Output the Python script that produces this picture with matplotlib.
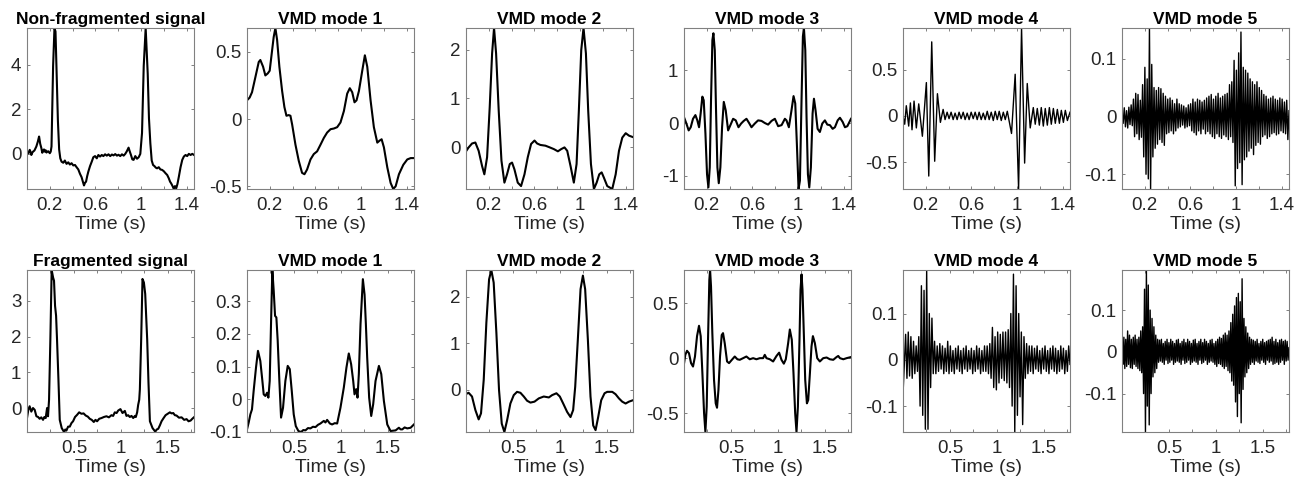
import numpy as np
import matplotlib
matplotlib.use("Agg")
import matplotlib.pyplot as plt
from matplotlib.ticker import FixedLocator, FuncFormatter

plt.rcParams["font.family"] = ["Liberation Sans", "DejaVu Sans"]
plt.rcParams["axes.unicode_minus"] = False

# recording lengths (s)
T_TOP = 1.465
T_BOT = 1.78

# ---------------- non-fragmented signal and its modes (t, value) ----------------
ecg_top = [(0.000, 0.10), (0.012, 0.02), (0.024, 0.18), (0.032, 0.08), (0.038, -0.05),
           (0.046, 0.05), (0.053, 0.10), (0.065, 0.15), (0.082, 0.33), (0.095, 0.55),
           (0.106, 0.78), (0.116, 0.45), (0.126, 0.26), (0.134, 0.05), (0.141, 0.12),
           (0.149, 0.20), (0.156, 0.10), (0.164, 0.16), (0.171, 0.06), (0.185, 0.12),
           (0.200, 0.03), (0.208, 0.10), (0.215, 0.33), (0.229, 3.95), (0.241, 5.66),
           (0.250, 5.50), (0.259, 3.80), (0.271, 1.50), (0.282, 0.20), (0.292, -0.20),
           (0.303, -0.35), (0.318, -0.40), (0.332, -0.30), (0.347, -0.45), (0.362, -0.38),
           (0.376, -0.48), (0.391, -0.42), (0.406, -0.52), (0.421, -0.50), (0.435, -0.60),
           (0.450, -0.70), (0.465, -0.90), (0.479, -1.05), (0.490, -1.25), (0.500, -1.42),
           (0.509, -1.30), (0.518, -1.25), (0.528, -1.00), (0.538, -0.80), (0.553, -0.55),
           (0.568, -0.35), (0.582, -0.15), (0.597, -0.10), (0.612, -0.20), (0.626, -0.05),
           (0.641, -0.12), (0.656, -0.05), (0.670, -0.10), (0.685, -0.02), (0.700, -0.08),
           (0.715, -0.02), (0.730, -0.10), (0.745, -0.03), (0.759, -0.07), (0.774, -0.01),
           (0.789, -0.08), (0.803, -0.04), (0.818, -0.10), (0.833, -0.02), (0.848, -0.08),
           (0.862, 0.00), (0.876, 0.12), (0.891, 0.28), (0.902, 0.10), (0.912, -0.05),
           (0.924, -0.25), (0.935, -0.27), (0.950, -0.10), (0.965, -0.22), (0.980, -0.15),
           (0.994, 0.00), (1.009, 0.94), (1.024, 3.95), (1.041, 5.66), (1.059, 3.60),
           (1.070, 1.60), (1.082, 0.48), (1.094, -0.30), (1.106, -0.50), (1.118, -0.55),
           (1.130, -0.62), (1.141, -0.65), (1.156, -0.60), (1.170, -0.70), (1.185, -0.72),
           (1.200, -0.78), (1.215, -0.87), (1.230, -0.95), (1.244, -1.10), (1.255, -1.25),
           (1.265, -1.33), (1.277, -1.45), (1.288, -1.58), (1.298, -1.45), (1.309, -1.55),
           (1.320, -1.35), (1.332, -1.03), (1.347, -0.60), (1.362, -0.27), (1.376, -0.12),
           (1.391, -0.05), (1.405, -0.10), (1.420, 0.00), (1.435, -0.05), (1.450, 0.00),
           (1.465, -0.05)]

mode1_top = [(0.000, 0.14), (0.023, 0.16), (0.044, 0.20), (0.073, 0.31), (0.103, 0.425),
             (0.117, 0.44), (0.141, 0.39), (0.161, 0.325), (0.182, 0.34), (0.199, 0.36),
             (0.220, 0.51), (0.234, 0.61), (0.249, 0.678), (0.264, 0.59), (0.284, 0.39),
             (0.308, 0.21), (0.328, 0.09), (0.346, 0.025), (0.366, 0.03), (0.381, 0.025),
             (0.396, -0.04), (0.425, -0.19), (0.454, -0.31), (0.483, -0.40), (0.504, -0.41),
             (0.527, -0.375), (0.557, -0.30), (0.586, -0.26), (0.615, -0.24), (0.645, -0.19),
             (0.674, -0.14), (0.703, -0.10), (0.733, -0.075), (0.762, -0.07), (0.791, -0.06),
             (0.820, -0.025), (0.850, 0.06), (0.879, 0.19), (0.902, 0.23), (0.923, 0.20),
             (0.943, 0.125), (0.961, 0.14), (0.982, 0.21), (1.011, 0.36), (1.034, 0.475),
             (1.055, 0.39), (1.084, 0.14), (1.113, -0.06), (1.143, -0.175), (1.163, -0.16),
             (1.181, -0.15), (1.201, -0.21), (1.231, -0.36), (1.260, -0.475), (1.283, -0.52),
             (1.304, -0.50), (1.333, -0.41), (1.371, -0.34), (1.406, -0.30), (1.436, -0.29),
             (1.465, -0.29)]

mode2_top = [(0.000, -0.08), (0.023, 0.00), (0.053, 0.08), (0.082, 0.10), (0.111, -0.07),
             (0.141, -0.38), (0.161, -0.55), (0.185, -0.20), (0.208, 0.82), (0.229, 1.92),
             (0.246, 2.44), (0.264, 1.92), (0.287, 0.75), (0.311, -0.27), (0.337, -0.72),
             (0.360, -0.55), (0.384, -0.34), (0.404, -0.31), (0.425, -0.45), (0.454, -0.72),
             (0.483, -0.79), (0.513, -0.55), (0.542, -0.20), (0.571, 0.07), (0.601, 0.14),
             (0.624, 0.08), (0.653, 0.05), (0.697, 0.035), (0.735, 0.00), (0.771, -0.035),
             (0.806, -0.08), (0.835, -0.035), (0.864, 0.00), (0.888, -0.07), (0.917, -0.38),
             (0.946, -0.72), (0.970, -0.34), (0.990, 0.75), (1.011, 1.99), (1.031, 2.44),
             (1.052, 1.92), (1.072, 0.75), (1.096, -0.34), (1.122, -0.85), (1.146, -0.72),
             (1.169, -0.55), (1.190, -0.51), (1.210, -0.62), (1.239, -0.79), (1.283, -0.85),
             (1.313, -0.55), (1.342, -0.07), (1.371, 0.20), (1.401, 0.29), (1.430, 0.24),
             (1.465, 0.21)]

mode3_top = [(0.000, 0.11), (0.021, -0.01), (0.041, -0.14), (0.059, -0.08), (0.079, 0.08),
             (0.100, 0.15), (0.117, 0.05), (0.132, -0.08), (0.146, 0.18), (0.161, 0.50),
             (0.173, 0.43), (0.188, -0.20), (0.202, -0.97), (0.214, -1.22), (0.226, -0.84),
             (0.237, 0.43), (0.249, 1.57), (0.258, 1.70), (0.270, 1.38), (0.281, 0.24),
             (0.293, -0.84), (0.305, -1.14), (0.319, -0.84), (0.334, -0.08), (0.349, 0.40),
             (0.366, 0.24), (0.387, -0.14), (0.407, -0.04), (0.431, 0.08), (0.454, 0.05),
             (0.478, -0.08), (0.501, -0.01), (0.524, 0.04), (0.548, 0.08), (0.571, 0.00),
             (0.592, -0.08), (0.621, -0.01), (0.650, 0.05), (0.680, 0.04), (0.709, 0.00),
             (0.738, -0.03), (0.768, 0.04), (0.797, 0.08), (0.826, -0.06), (0.856, -0.04),
             (0.885, 0.08), (0.899, 0.05), (0.920, -0.08), (0.943, 0.24), (0.961, 0.51),
             (0.976, 0.37), (0.990, -0.39), (1.005, -1.25), (1.017, -1.09), (1.031, 0.43),
             (1.043, 1.64), (1.052, 1.80), (1.064, 1.38), (1.075, 0.11), (1.087, -0.97),
             (1.099, -1.22), (1.113, -0.84), (1.128, 0.18), (1.140, 0.46), (1.154, 0.24),
             (1.172, -0.11), (1.192, -0.17), (1.213, -0.01), (1.236, 0.05), (1.257, -0.03),
             (1.280, -0.04), (1.304, -0.11), (1.324, -0.08), (1.348, 0.05), (1.368, 0.10),
             (1.392, 0.02), (1.412, -0.08), (1.433, -0.06), (1.465, 0.08)]

mode4_top = [(0.000, 0.00), (0.015, -0.09), (0.029, 0.11), (0.050, -0.11), (0.065, 0.14),
             (0.079, -0.15), (0.097, 0.16), (0.117, -0.13), (0.138, 0.13), (0.170, -0.22),
             (0.205, 0.36), (0.226, -0.65), (0.252, 0.80), (0.278, -0.49), (0.302, 0.24),
             (0.328, -0.07), (0.352, 0.07), (0.369, -0.04), (0.387, 0.04), (0.404, -0.03),
             (0.422, 0.04), (0.440, -0.04), (0.457, 0.03), (0.475, -0.04), (0.492, 0.04),
             (0.510, -0.03), (0.528, 0.04), (0.545, -0.04), (0.563, 0.03), (0.580, -0.04),
             (0.598, 0.04), (0.616, -0.03), (0.633, 0.04), (0.651, -0.04), (0.668, 0.04),
             (0.686, -0.04), (0.704, 0.03), (0.721, -0.04), (0.739, 0.05), (0.756, -0.04),
             (0.774, 0.04), (0.792, -0.05), (0.809, 0.05), (0.827, -0.04), (0.844, 0.05),
             (0.862, -0.05), (0.880, 0.04), (0.897, -0.04), (0.915, 0.05), (0.952, -0.19),
             (0.984, 0.45), (1.014, -0.79), (1.040, 0.95), (1.067, -0.51), (1.090, 0.35),
             (1.116, -0.13), (1.143, 0.09), (1.160, -0.09), (1.178, 0.08), (1.196, -0.10),
             (1.213, 0.09), (1.231, -0.11), (1.248, 0.08), (1.266, -0.10), (1.284, 0.09),
             (1.301, -0.09), (1.319, 0.08), (1.336, -0.08), (1.354, 0.07), (1.372, -0.08),
             (1.389, 0.06), (1.407, -0.07), (1.424, 0.06), (1.442, -0.05), (1.465, 0.04)]

# mode 5, evenly sampled over the record
mode5_top = [0.000, -0.012, 0.015, -0.018, 0.010, -0.020, 0.016, -0.014, 0.020, -0.016,
             0.030, -0.035, 0.040, -0.030, 0.038, -0.040, 0.028, -0.036, 0.055, -0.070,
             0.085, -0.100, 0.065, -0.108, 0.153, -0.1255, 0.090, -0.070, 0.050, -0.055,
             0.045, -0.048, 0.050, -0.040, 0.048, -0.045, 0.040, -0.050, 0.035, -0.030,
             0.030, -0.028, 0.032, -0.025, 0.028, -0.030, 0.022, -0.025, 0.030, -0.020,
             0.022, -0.018, 0.020, -0.015, 0.018, -0.020, 0.015, -0.018, 0.020, -0.016,
             0.022, -0.025, 0.030, -0.028, 0.025, -0.032, 0.030, -0.025, 0.028, -0.030,
             0.025, -0.022, 0.028, -0.030, 0.032, -0.026, 0.035, -0.030, 0.038, -0.035,
             0.030, -0.038, 0.035, -0.030, 0.040, -0.035, 0.032, -0.038, 0.035, -0.032,
             0.038, -0.035, 0.040, -0.040, 0.055, -0.035, 0.060, -0.045, 0.097, -0.120,
             0.080, -0.090, 0.110, -0.080, 0.146, -0.118, 0.085, -0.075, 0.080, -0.070,
             0.075, -0.060, 0.065, -0.055, 0.060, -0.066, 0.055, -0.050, 0.060, -0.045,
             0.050, -0.048, 0.045, -0.035, 0.038, -0.032, 0.035, -0.038, 0.030, -0.035,
             0.032, -0.030, 0.035, -0.028, 0.030, -0.032, 0.028, -0.030, 0.032, -0.025,
             0.030, -0.028, 0.025, -0.030, 0.028, -0.040, 0.010]

# ---------------- fragmented signal and its modes ----------------
ecg_bot = [(0.000, -0.28), (0.014, -0.05), (0.028, 0.05), (0.046, -0.10), (0.064, 0.00),
           (0.082, -0.05), (0.100, -0.23), (0.118, -0.25), (0.135, -0.30), (0.152, -0.26),
           (0.171, -0.33), (0.185, -0.25), (0.199, -0.28), (0.214, 0.00), (0.224, -0.23),
           (0.235, 0.23), (0.249, 1.92), (0.263, 3.86), (0.278, 3.65), (0.288, 3.56),
           (0.299, 2.86), (0.310, 2.58), (0.320, 1.92), (0.335, 0.80), (0.349, -0.33),
           (0.370, -0.56), (0.395, -0.67), (0.408, -0.60), (0.420, -0.63), (0.438, -0.52),
           (0.456, -0.52), (0.474, -0.42), (0.491, -0.37), (0.512, -0.25), (0.534, -0.19),
           (0.556, -0.12), (0.580, -0.16), (0.603, -0.15), (0.626, -0.21), (0.648, -0.24),
           (0.669, -0.30), (0.690, -0.33), (0.712, -0.39), (0.730, -0.33), (0.747, -0.37),
           (0.770, -0.30), (0.794, -0.28), (0.820, -0.25), (0.847, -0.23), (0.873, -0.26),
           (0.900, -0.20), (0.918, -0.22), (0.936, -0.12), (0.955, -0.14), (0.972, -0.07),
           (0.996, -0.03), (1.018, -0.14), (1.043, -0.08), (1.060, -0.22), (1.078, -0.20),
           (1.096, -0.25), (1.114, -0.22), (1.132, -0.28), (1.150, -0.22), (1.160, -0.25),
           (1.174, -0.12), (1.185, 0.09), (1.196, 0.23), (1.203, 0.52), (1.217, 1.92),
           (1.231, 3.61), (1.246, 3.51), (1.260, 3.19), (1.270, 2.58), (1.281, 1.92),
           (1.295, 0.70), (1.310, -0.37), (1.338, -0.56), (1.367, -0.66), (1.383, -0.60),
           (1.399, -0.58), (1.417, -0.48), (1.434, -0.37), (1.456, -0.28), (1.477, -0.20),
           (1.500, -0.16), (1.523, -0.12), (1.541, -0.15), (1.559, -0.14), (1.576, -0.20),
           (1.594, -0.21), (1.620, -0.27), (1.648, -0.26), (1.675, -0.33), (1.701, -0.31),
           (1.722, -0.37), (1.744, -0.35), (1.762, -0.30), (1.779, -0.26)]

mode1_bot = [(0.000, -0.092), (0.018, -0.071), (0.036, -0.046), (0.053, -0.031), (0.071, 0.026),
             (0.096, 0.097), (0.117, 0.148), (0.142, 0.117), (0.164, 0.056), (0.178, 0.015),
             (0.196, 0.010), (0.214, 0.020), (0.228, 0.005), (0.242, 0.056), (0.256, 0.230),
             (0.270, 0.395), (0.285, 0.330), (0.299, 0.255), (0.313, 0.250), (0.327, 0.180),
             (0.345, 0.056), (0.363, -0.056), (0.384, -0.026), (0.409, 0.056), (0.434, 0.102),
             (0.456, 0.092), (0.477, 0.026), (0.498, -0.046), (0.520, -0.082), (0.548, -0.097),
             (0.577, -0.100), (0.600, -0.094), (0.623, -0.095), (0.650, -0.088), (0.676, -0.089),
             (0.703, -0.084), (0.730, -0.085), (0.757, -0.078), (0.783, -0.074), (0.819, -0.066),
             (0.836, -0.071), (0.854, -0.063), (0.883, -0.074), (0.907, -0.077), (0.935, -0.073),
             (0.961, -0.074), (0.996, -0.026), (1.032, 0.036), (1.060, 0.097), (1.085, 0.140),
             (1.110, 0.107), (1.132, 0.056), (1.146, 0.015), (1.164, 0.031), (1.178, 0.005),
             (1.192, 0.077), (1.210, 0.230), (1.235, 0.367), (1.253, 0.320), (1.267, 0.230),
             (1.281, 0.128), (1.302, 0.005), (1.324, -0.051), (1.345, -0.015), (1.370, 0.056),
             (1.406, 0.102), (1.431, 0.077), (1.459, -0.005), (1.495, -0.077), (1.530, -0.097),
             (1.584, -0.095), (1.619, -0.087), (1.637, -0.092), (1.655, -0.092), (1.680, -0.086),
             (1.708, -0.089), (1.744, -0.087), (1.779, -0.077)]

mode2_bot = [(0.000, -0.086), (0.028, -0.06), (0.064, -0.14), (0.100, -0.43), (0.135, -0.63),
             (0.160, -0.50), (0.189, 0.22), (0.217, 1.44), (0.246, 2.37), (0.270, 2.57),
             (0.295, 2.30), (0.324, 1.22), (0.352, 0.00), (0.381, -0.72), (0.409, -0.90),
             (0.438, -0.65), (0.473, -0.29), (0.509, -0.11), (0.544, -0.04), (0.580, -0.06),
             (0.616, -0.14), (0.651, -0.23), (0.687, -0.27), (0.730, -0.25), (0.776, -0.18),
             (0.829, -0.14), (0.883, -0.16), (0.918, -0.11), (0.964, -0.07), (1.000, -0.14),
             (1.036, -0.29), (1.078, -0.47), (1.114, -0.58), (1.142, -0.43), (1.164, 0.07),
             (1.192, 1.08), (1.221, 2.16), (1.246, 2.45), (1.270, 2.16), (1.299, 1.08),
             (1.327, -0.14), (1.356, -0.76), (1.381, -0.86), (1.409, -0.58), (1.441, -0.22),
             (1.477, -0.07), (1.505, -0.04), (1.559, -0.04), (1.594, -0.09), (1.630, -0.18),
             (1.665, -0.25), (1.701, -0.29), (1.737, -0.25), (1.779, -0.22)]

mode3_bot = [(0.000, -0.05), (0.014, 0.03), (0.032, 0.067), (0.053, 0.045), (0.075, -0.045),
             (0.096, -0.076), (0.117, 0.015), (0.139, 0.20), (0.160, 0.294), (0.178, 0.20),
             (0.196, -0.136), (0.214, -0.50), (0.228, -0.67), (0.242, -0.44), (0.256, 0.167),
             (0.270, 0.71), (0.278, 0.80), (0.288, 0.65), (0.302, 0.227), (0.320, -0.197),
             (0.338, -0.41), (0.352, -0.45), (0.367, -0.29), (0.384, 0.015), (0.402, 0.21),
             (0.416, 0.227), (0.434, 0.136), (0.459, -0.03), (0.480, -0.045), (0.505, -0.02),
             (0.541, 0.015), (0.569, -0.01), (0.594, -0.015), (0.630, 0.00), (0.665, 0.015),
             (0.701, -0.01), (0.737, 0.00), (0.772, -0.01), (0.808, 0.00), (0.843, 0.00),
             (0.861, 0.03), (0.879, 0.00), (0.915, -0.01), (0.950, -0.03), (0.986, 0.02),
             (1.014, 0.05), (1.039, -0.015), (1.064, -0.05), (1.085, -0.01), (1.110, 0.136),
             (1.128, 0.26), (1.149, 0.167), (1.167, -0.136), (1.185, -0.50), (1.199, -0.67),
             (1.214, -0.44), (1.231, 0.167), (1.242, 0.62), (1.253, 0.76), (1.263, 0.62),
             (1.278, 0.20), (1.292, -0.197), (1.310, -0.41), (1.324, -0.38), (1.342, -0.136),
             (1.359, 0.106), (1.374, 0.20), (1.395, 0.136), (1.420, 0.00), (1.448, -0.03),
             (1.484, 0.00), (1.520, 0.006), (1.555, -0.01), (1.591, -0.015), (1.626, 0.01),
             (1.644, 0.02), (1.662, 0.00), (1.698, -0.01), (1.733, 0.00), (1.779, 0.01)]

mode4_bot = [-0.075, -0.010, 0.055, -0.040, 0.060, -0.035, 0.050, -0.040, 0.040, -0.030,
             0.030, -0.025, 0.050, -0.100, 0.160, -0.120, 0.150, -0.150, 0.194, -0.150,
             0.100, -0.060, 0.090, -0.030, 0.040, -0.030, 0.030, -0.025, 0.035, -0.020,
             0.030, -0.030, 0.025, -0.025, 0.040, -0.030, 0.030, -0.025, 0.020, -0.030,
             0.025, -0.020, 0.030, -0.025, 0.020, -0.030, 0.025, -0.020, 0.030, -0.025,
             0.020, -0.020, 0.025, -0.030, 0.020, -0.025, 0.030, -0.020, 0.025, -0.030,
             0.020, -0.025, 0.030, -0.025, 0.030, -0.030, 0.035, -0.040, 0.070, -0.060,
             0.050, -0.065, 0.060, -0.050, 0.055, -0.040, 0.060, -0.045, 0.060, -0.050,
             0.065, -0.060, 0.100, -0.100, 0.185, -0.156, 0.160, -0.120, 0.100, -0.080,
             0.060, -0.140, 0.050, -0.040, 0.035, -0.030, 0.030, -0.025, 0.030, -0.030,
             0.025, -0.020, 0.030, -0.025, 0.020, -0.030, 0.025, -0.020, 0.030, -0.025,
             0.020, -0.030, 0.025, -0.020, 0.030, -0.025, 0.025, -0.030, 0.020, -0.025,
             0.030, -0.020, 0.025, -0.030, 0.020, -0.025, 0.030, -0.010]

mode5_bot = [0.000, -0.030, 0.035, -0.040, 0.030, -0.035, 0.050, -0.030, 0.040, -0.038,
             0.030, -0.040, 0.035, -0.030, 0.040, -0.035, 0.030, -0.040, 0.035, -0.045,
             0.050, -0.050, 0.060, -0.100, 0.150, -0.192, 0.196, -0.130, 0.160, -0.175,
             0.100, -0.100, 0.080, -0.060, 0.060, -0.050, 0.040, -0.040, 0.030, -0.025,
             0.028, -0.022, 0.030, -0.025, 0.020, -0.030, 0.025, -0.020, 0.030, -0.028,
             0.022, -0.025, 0.030, -0.020, 0.025, -0.030, 0.020, -0.025, 0.028, -0.022,
             0.030, -0.025, 0.020, -0.030, 0.025, -0.020, 0.030, -0.028, 0.022, -0.025,
             0.030, -0.020, 0.025, -0.030, 0.020, -0.025, 0.028, -0.022, 0.030, -0.025,
             0.020, -0.030, 0.025, -0.020, 0.030, -0.028, 0.022, -0.025, 0.030, -0.020,
             0.025, -0.030, 0.020, -0.025, 0.028, -0.022, 0.030, -0.025, 0.020, -0.030,
             0.025, -0.035, 0.030, -0.028, 0.035, -0.030, 0.032, -0.035, 0.040, -0.040,
             0.045, -0.035, 0.040, -0.045, 0.050, -0.050, 0.070, -0.070, 0.090, -0.080,
             0.110, -0.120, 0.130, -0.155, 0.140, -0.100, 0.120, -0.170, 0.175, -0.090,
             0.080, -0.060, 0.060, -0.050, 0.045, -0.040, 0.035, -0.030, 0.030, -0.025,
             0.028, -0.030, 0.025, -0.022, 0.030, -0.025, 0.020, -0.028, 0.025, -0.020,
             0.030, -0.025, 0.022, -0.030, 0.025, -0.020, 0.028, -0.025, 0.030, -0.022,
             0.035, -0.030, 0.025, -0.028, 0.030, -0.025, 0.022, -0.030, 0.028, -0.025,
             0.030, -0.020, 0.025, -0.030, 0.028, -0.022, 0.025, -0.020, 0.010]

top_titles = ["Non-fragmented signal", "VMD mode 1", "VMD mode 2", "VMD mode 3", "VMD mode 4", "VMD mode 5"]
bot_titles = ["Fragmented signal", "VMD mode 1", "VMD mode 2", "VMD mode 3", "VMD mode 4", "VMD mode 5"]
top_yticks = [[0, 2, 4], [-0.5, 0, 0.5], [0, 1, 2], [-1, 0, 1], [-0.5, 0, 0.5], [-0.1, 0, 0.1]]
bot_yticks = [[0, 1, 2, 3], [-0.1, 0, 0.1, 0.2, 0.3], [0, 1, 2], [-0.5, 0, 0.5], [-0.1, 0, 0.1], [-0.1, 0, 0.1]]


def pairs(p):
    a = np.array(p)
    return a[:, 0], a[:, 1]


def even(v, T):
    return np.linspace(0, T, len(v)), np.array(v)


top = [pairs(ecg_top), pairs(mode1_top), pairs(mode2_top), pairs(mode3_top),
       pairs(mode4_top), even(mode5_top, T_TOP)]
bot = [pairs(ecg_bot), pairs(mode1_bot), pairs(mode2_bot), pairs(mode3_bot),
       even(mode4_bot, T_BOT), even(mode5_bot, T_BOT)]

fig = plt.figure(figsize=(13.09, 4.87), dpi=100)
lefts = [27, 247, 466, 684, 903, 1122]
W, H = 1309.0, 487.0
edge = "#808080"
fmt = FuncFormatter(lambda v, p: f"{v:g}")

rows = [(top, top_titles, top_yticks, 28, 189, T_TOP, [0.2, 0.6, 1.0, 1.4], [0.4, 0.8, 1.2]),
        (bot, bot_titles, bot_yticks, 270, 432, T_BOT, [0.5, 1.0, 1.5], [0.25, 0.75, 1.25, 1.75])]

for sigs, titles, yts, ytop, ybot, T, xmaj, xmin in rows:
    for i, (t, y) in enumerate(sigs):
        ax = fig.add_axes([lefts[i] / W, 1 - ybot / H, 167 / W, (ybot - ytop) / H])
        lw = 1.0 if (i >= 4) else 1.5
        ax.plot(t, y, color="black", lw=lw)
        ax.set_xlim(0, T)
        ax.set_ylim(y.min(), y.max())
        ax.xaxis.set_major_locator(FixedLocator(xmaj))
        ax.xaxis.set_minor_locator(FixedLocator(xmin))
        ax.yaxis.set_major_locator(FixedLocator(yts[i]))
        ax.xaxis.set_major_formatter(fmt)
        ax.yaxis.set_major_formatter(fmt)
        ax.tick_params(which="both", direction="in", top=True, right=True,
                       length=2.5, width=0.7, color=edge, labelsize=13.5,
                       labelcolor="#262626")
        ax.tick_params(axis="x", which="both", pad=6)
        ax.tick_params(axis="y", which="both", pad=4)
        for s in ax.spines.values():
            s.set_color(edge)
            s.set_linewidth(0.8)
        ax.set_title(titles[i], fontsize=12.5, fontweight="bold", pad=3)
        ax.set_xlabel("Time (s)", fontsize=14, color="#262626", labelpad=1)

fig.savefig("out.png", dpi=100)
